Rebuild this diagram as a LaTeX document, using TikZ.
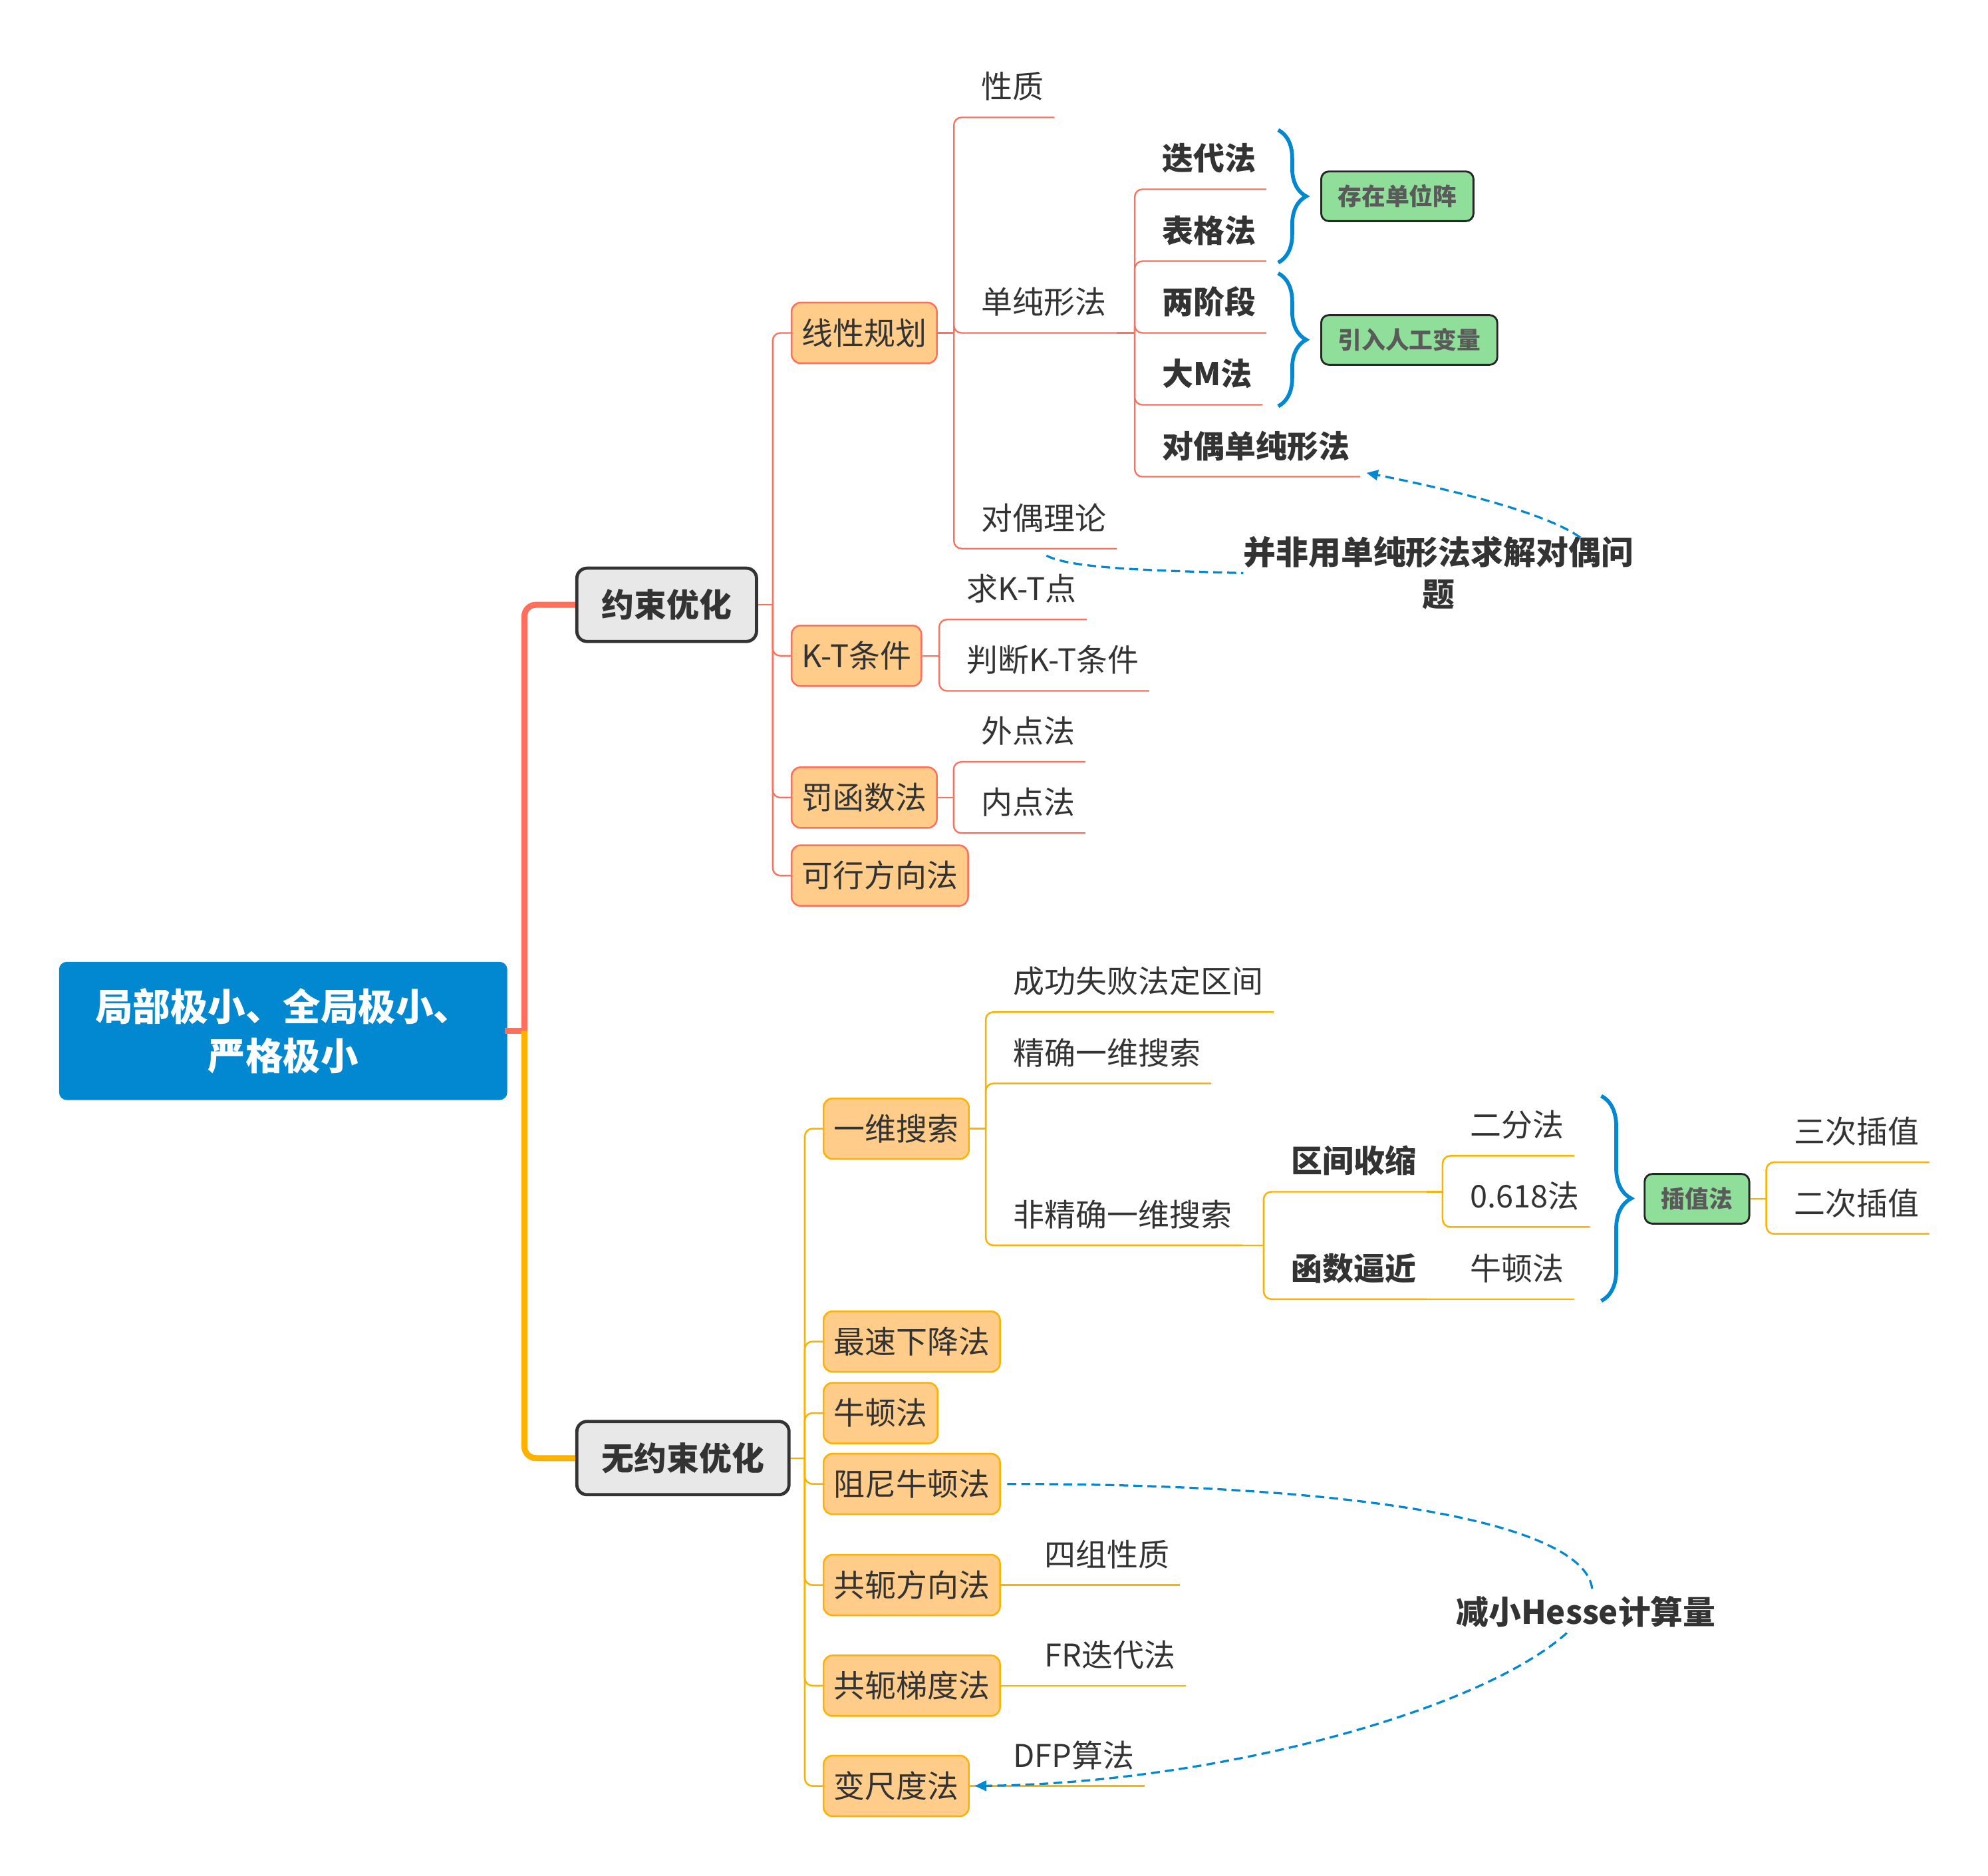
\documentclass[tikz,border=0pt]{standalone}
\usepackage{fontspec}
\setmainfont{Noto Sans CJK SC}
\usetikzlibrary{arrows.meta,decorations.pathreplacing,calc}
\definecolor{rootblue}{RGB}{2,136,209}
\definecolor{redl}{RGB}{255,111,92}
\definecolor{orgl}{RGB}{255,177,0}
\definecolor{boxf}{RGB}{255,204,138}
\definecolor{grayf}{RGB}{232,232,232}
\definecolor{darkb}{RGB}{51,51,51}
\definecolor{txt}{RGB}{51,51,51}
\definecolor{greenf}{RGB}{143,222,153}
\definecolor{greent}{RGB}{90,90,90}
\begin{document}
\begin{tikzpicture}[x=1pt,y=-1pt,
  every node/.style={text=txt},
  fs/.style={font=\fontsize{24.5}{30}\selectfont},
  fsb/.style={font=\fontsize{24.5}{30}\selectfont\bfseries},
  rootbox/.style={fill=rootblue, rounded corners=6pt, minimum width=351.7pt, minimum height=108.4pt, text=white, font=\fontsize{29.5}{39}\selectfont\bfseries, align=center, inner sep=0pt},
  lonebox/.style={fill=grayf, draw=darkb, line width=2.5pt, rounded corners=8pt, inner xsep=19.5pt, inner ysep=0pt, minimum height=57.5pt, font=\fontsize{25.5}{30}\selectfont\bfseries, text height=21.9pt, text depth=2.55pt, anchor=west},
  box/.style={fs, rounded corners=7pt, fill=boxf, line width=1.3pt, inner xsep=8pt, inner ysep=0pt, minimum height=47.5pt, anchor=west, text height=21pt, text depth=2.4pt},
  boxr/.style={box, draw=redl},
  boxo/.style={box, draw=orgl},
  ul/.style={fs, anchor=south west, inner xsep=8pt, inner ysep=0pt, text height=22pt, text depth=14.7pt},
  ulb/.style={ul, fsb},
  gbox/.style={fill=greenf, draw=black!85, line width=1.5pt, rounded corners=6pt, inner xsep=13pt, inner ysep=0pt, minimum height=39pt, anchor=west, text=greent, font=\fontsize{18.7}{22}\selectfont\bfseries, text height=16.1pt, text depth=1.9pt},
  lab/.style={font=\fontsize{25.5}{33}\selectfont\bfseries, align=center, inner sep=0pt},
  rl/.style={redl, line width=1.2pt, rounded corners=6pt},
  ol/.style={orgl, line width=1.3pt, rounded corners=6pt},
  bracel/.style={rootblue, line width=3pt, decorate, decoration={brace, amplitude=#1}},
  rel/.style={rootblue, line width=1.7pt, dash pattern=on 7pt off 4pt}
]
\useasboundingbox (0,0) rectangle (1560,1471.3);

% root and level 1
\node[rootbox] (root) at (222.2,808.8) {局部极小、全局极小、\\严格极小};
\node[lonebox] (ys) at (451.4,474.5) {约束优化};
\node[lonebox] (wys) at (451.4,1143.9) {无约束优化};
\coordinate (rj) at (411.5,808.8);
\draw[redl, line width=4.7pt, line cap=rect] (root.east) -- (rj);
\draw[redl, line width=4.7pt, rounded corners=9pt] (rj) |- (ys.west);
\draw[orgl, line width=4.7pt, rounded corners=9pt] (rj) |- (wys.west);

% constrained branch
\node[boxr] (xxgh) at (620.5,261.2) {线性规划};
\node[boxr] (kt) at (620.5,514.5) {K-T条件};
\node[boxr] (fhs) at (620.5,625.7) {罚函数法};
\node[boxr] (kxfx) at (620.5,686.9) {可行方向法};
\coordinate (ysj) at (606.3,474.5);
\draw[rl] (ys.east) -- (ysj);
\foreach \c in {xxgh,kt,fhs,kxfx} \draw[rl] (ysj) |- (\c.west);

% linear programming
\node[ul] (xz) at (762,92.1) {性质};
\node[ul] (dcx) at (762,261.2) {单纯形法};
\node[ul] (dlt) at (762,430.4) {对偶理论};
\coordinate (xxghj) at (748.5,261.2);
\draw[rl] (xxgh.east) -- (xxghj);
\foreach \c in {xz,dcx,dlt} \draw[rl] (xxghj) |- (\c.south east);

\node[ulb] (ddf) at (903.9,148.5) {迭代法};
\node[ulb] (bgf) at (903.9,204.9) {表格法};
\node[ulb] (ljd) at (903.9,261.2) {两阶段};
\node[ulb] (dmf) at (903.9,317.6) {大M法};
\node[ulb] (dsx) at (903.9,374) {对偶单纯形法};
\coordinate (dcxj) at (890.4,261.2);
\draw[rl] (dcx.south east) -- (dcxj);
\foreach \c in {ddf,bgf,ljd,dmf,dsx} \draw[rl] (dcxj) |- (\c.south east);

\node[gbox] (czdw) at (1036,154) {存在单位阵};
\node[gbox] (yrrg) at (1036,266.7) {引入人工变量};
\coordinate (b1t) at (1003,102); \coordinate (b1b) at (1003,206);
\coordinate (b2t) at (1003,214.4); \coordinate (b2b) at (1003,318.7);
\draw[bracel=22pt] (b1t) -- (b1b);
\draw[bracel=22pt] (b2t) -- (b2b);

% KT
\node[ul] (qkt) at (750.5,486) {求K-T点};
\node[ul] (pdkt) at (750.5,542) {判断K-T条件};
\coordinate (ktj) at (737,514.5);
\draw[rl] (kt.east) -- (ktj);
\foreach \c in {qkt,pdkt} \draw[rl] (ktj) |- (\c.south east);

% penalty
\node[ul] (wdf) at (761.8,597.7) {外点法};
\node[ul] (ndf) at (761.8,653.6) {内点法};
\coordinate (fhsj) at (748.3,625.7);
\draw[rl] (fhs.east) -- (fhsj);
\foreach \c in {wdf,ndf} \draw[rl] (fhsj) |- (\c.south east);

% relation label 1
\node[lab] (lab1) at (1128.8,449.6) {并非用单纯形法求解对偶问\\题};
\draw[rel] ($(dlt.south)+(2,5.5)$) .. controls +(19,10) and +(-74,-2) .. (lab1.west);
\draw[rel, -{Triangle[length=9pt,width=8pt]}] ($(lab1.north east)+(-42,1)$) .. controls +(-25,-18) and +(76,15) .. ($(dsx.south east)+(5,-3)$);

% unconstrained branch
\node[boxo] (yw) at (645.6,885.5) {一维搜索};
\node[boxo] (zsxj) at (645.6,1052.5) {最速下降法};
\node[boxo] (nd) at (645.6,1108.6) {牛顿法};
\node[boxo] (zn) at (645.6,1164.2) {阻尼牛顿法};
\node[boxo] (gefx) at (645.6,1243.5) {共轭方向法};
\node[boxo] (getd) at (645.6,1322.5) {共轭梯度法};
\node[boxo] (bcd) at (645.6,1401.1) {变尺度法};
\coordinate (wysj) at (631.5,1143.9);
\draw[ol] (wys.east) -- (wysj);
\foreach \c in {yw,zsxj,nd,zn,gefx,getd,bcd} \draw[ol] (wysj) |- (\c.west);

% line search
\node[ul] (cgsb) at (787,794) {成功失败法定区间};
\node[ul] (jqyw) at (787,850) {精确一维搜索};
\node[ul] (fjq) at (787,977) {非精确一维搜索};
\coordinate (ywj) at (773.5,885.5);
\draw[ol] (yw.east) -- (ywj);
\foreach \c in {cgsb,jqyw,fjq} \draw[ol] (ywj) |- (\c.south east);

\node[ulb] (qjss) at (1005.1,935) {区间收缩};
\node[ulb] (hsbj) at (1005.1,1019.2) {函数逼近};
\coordinate (fjqj) at (991.6,977);
\draw[ol] (fjq.south east) -- (fjqj);
\foreach \c in {qjss,hsbj} \draw[ol] (fjqj) |- (\c.south east);

\node[ul] (efa) at (1145.5,906.8) {二分法};
\node[ul] (hjf) at (1145.5,962.6) {0.618法};
\coordinate (qjssj) at (1132,935);
\draw[ol] (qjss.south east) -- (qjssj);
\foreach \c in {efa,hjf} \draw[ol] (qjssj) |- (\c.south east);

\node[ul] (ndb) at (1145.5,1019.2) {牛顿法};
\draw[ol] (hsbj.south east) -- (ndb.south east);

\coordinate (b3t) at (1256.5,859.8); \coordinate (b3b) at (1256.5,1020.6);
\draw[bracel=23.5pt] (b3t) -- (b3b);
\node[gbox] (czf) at (1289.8,940.5) {插值法};
\node[ul] (sccz) at (1399.5,911.8) {三次插值};
\node[ul] (eccz) at (1399.5,968) {二次插值};
\coordinate (czj) at (1386,940.5);
\draw[ol] (czf.east) -- (czj);
\foreach \c in {sccz,eccz} \draw[ol] (czj) |- (\c.south east);

% other methods
\node[ul] (szxz) at (811.5,1243.5) {四组性质};
\draw[ol] (gefx.east) -- (szxz.south east);
\node[ul] (frd) at (811.5,1322.5) {FR迭代法};
\draw[ol] (getd.east) -- (frd.south east);
\node[ul] (dfp) at (787,1401.1) {DFP算法};
\draw[ol] (bcd.east) -- (dfp.south east);

% relation label 2
\node[lab] (hes) at (1244.5,1264.6) {减小Hesse计算量};
\draw[rel] ($(zn.east)+(5,0)$) .. controls +(311,0) and +(0,-48) .. ($(hes.north)+(5,-3)$);
\draw[rel, -{Triangle[length=9pt,width=8pt]}] ($(hes.south)+(-15,4)$) .. controls +(-69,62) and +(186,-2) .. ($(bcd.east)+(4,0)$);
\end{tikzpicture}
\end{document}
